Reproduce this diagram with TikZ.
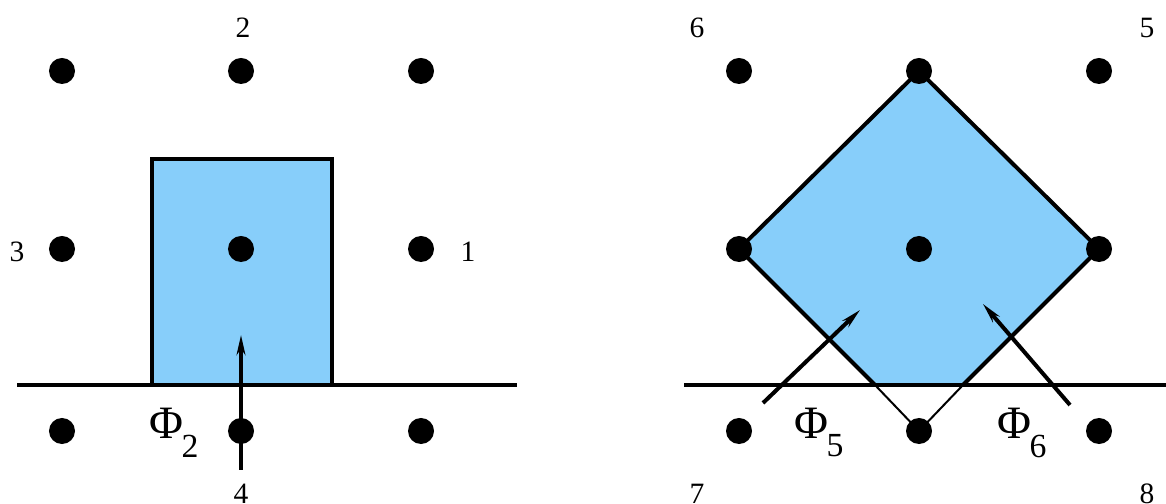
\documentclass[tikz,border=0pt]{standalone}
\usepackage{fontspec}
\setmainfont{Liberation Serif}
\usetikzlibrary{arrows.meta}
\definecolor{cellblue}{RGB}{135,206,250}
\begin{document}
\begin{tikzpicture}[x=0.025cm,y=-0.025cm]
	\tikzset{site/.style={circle, fill=black, inner sep=0pt, minimum size=0.65cm},
		lbl/.style={font=\fontsize{21}{24}\selectfont, inner sep=0pt},
		phi/.style={font=\fontsize{33}{36}\selectfont, inner sep=0pt},
		sub/.style={font=\fontsize{24}{28}\selectfont, inner sep=0pt},
		flux/.style={-{Stealth[length=0.5cm,width=0.22cm]}, line width=0.1cm},
		thk/.style={line width=0.1cm}}
	\useasboundingbox (0,0) rectangle (1166,504);
	% left cell
	\fill[cellblue] (152,159) rectangle (332,385);
	\draw[thk] (152,385) -- (152,159) -- (332,159) -- (332,385);
	\coordinate (la) at (17,385);
	\coordinate (lb) at (517,385);
	\draw[thk] (la) -- (lb);
	\foreach \i/\x in {0/62,1/241,2/421}
		\foreach \j/\y in {0/71,1/249,2/431}
			\node[site] (l\i\j) at (\x,\y) {};
	\coordinate (ls) at (241,470);
	\coordinate (le) at (241,335);
	\draw[flux] (ls) -- (le);
	\node[lbl] (n2) at (243,28)  {2};
	\node[lbl] (n3) at (17,252)  {3};
	\node[lbl] (n1) at (468,252) {1};
	\node[lbl] (n4) at (241,494) {4};
	\node[phi] (p2) at (166,423) {Φ};
	\node[sub] (s2) at (190,446) {2};
	% right cell
	\fill[cellblue] (739,249) -- (919,71) -- (1099,249) -- (963,385) -- (875,385) -- cycle;
	\draw[thk] (875,385) -- (739,249) -- (919,71) -- (1099,249) -- (963,385);
	\draw[line width=0.05cm] (875,385) -- (919,431) -- (963,385);
	\coordinate (ra) at (684,385);
	\coordinate (rb) at (1166,385);
	\draw[thk] (ra) -- (rb);
	\foreach \i/\x in {0/739,1/919,2/1099}
		\foreach \j/\y in {0/71,1/249,2/431}
			\node[site] (r\i\j) at (\x,\y) {};
	\coordinate (f5s) at (763,403);
	\coordinate (f5e) at (860,310);
	\coordinate (f6s) at (1070,405);
	\coordinate (f6e) at (983,304);
	\draw[flux] (f5s) -- (f5e);
	\draw[flux] (f6s) -- (f6e);
	\node[lbl] (n6) at (697,28)   {6};
	\node[lbl] (n5) at (1147,28)  {5};
	\node[lbl] (n7) at (697,494)  {7};
	\node[lbl] (n8) at (1147,494) {8};
	\node[phi] (p5) at (811,423)  {Φ};
	\node[sub] (s5) at (835,446)  {5};
	\node[phi] (p6) at (1014,423) {Φ};
	\node[sub] (s6) at (1038,446) {6};
\end{tikzpicture}
\end{document}
